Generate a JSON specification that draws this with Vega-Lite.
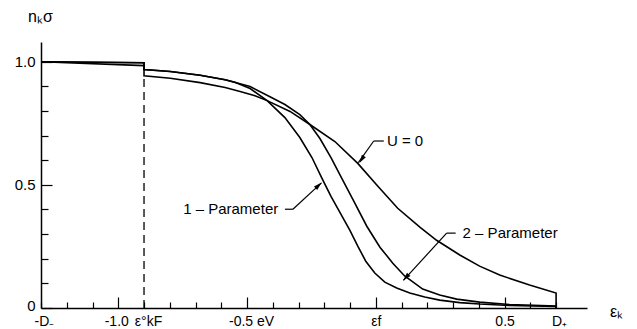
{
  "$schema": "https://vega.github.io/schema/vega-lite/v6.json",
  "width": 546,
  "height": 266,
  "autosize": {"type": "none"},
  "padding": {"left": 41, "top": 42, "right": 50, "bottom": 21},
  "background": "white",
  "config": {"view": {"stroke": null}, "font": "Liberation Sans"},
  "datasets": {
    "curves": [
      {"s": "P1", "i": 0, "x": -1.3, "y": 1.0},
      {"s": "P1", "i": 1, "x": -0.9, "y": 0.996},
      {"s": "P1", "i": 2, "x": -0.9, "y": 0.968},
      {"s": "P1", "i": 3, "x": -0.798, "y": 0.960},
      {"s": "P1", "i": 4, "x": -0.682, "y": 0.945},
      {"s": "P1", "i": 5, "x": -0.585, "y": 0.927},
      {"s": "P1", "i": 6, "x": -0.547, "y": 0.917},
      {"s": "P1", "i": 7, "x": -0.488, "y": 0.891},
      {"s": "P1", "i": 8, "x": -0.422, "y": 0.842},
      {"s": "P1", "i": 9, "x": -0.353, "y": 0.773},
      {"s": "P1", "i": 10, "x": -0.295, "y": 0.692},
      {"s": "P1", "i": 11, "x": -0.248, "y": 0.611},
      {"s": "P1", "i": 12, "x": -0.209, "y": 0.526},
      {"s": "P1", "i": 13, "x": -0.174, "y": 0.453},
      {"s": "P1", "i": 14, "x": -0.140, "y": 0.389},
      {"s": "P1", "i": 15, "x": -0.101, "y": 0.316},
      {"s": "P1", "i": 16, "x": -0.070, "y": 0.251},
      {"s": "P1", "i": 17, "x": -0.039, "y": 0.190},
      {"s": "P1", "i": 18, "x": -0.004, "y": 0.142},
      {"s": "P1", "i": 19, "x": 0.035, "y": 0.105},
      {"s": "P1", "i": 20, "x": 0.081, "y": 0.081},
      {"s": "P1", "i": 21, "x": 0.132, "y": 0.061},
      {"s": "P1", "i": 22, "x": 0.190, "y": 0.045},
      {"s": "P1", "i": 23, "x": 0.248, "y": 0.032},
      {"s": "P1", "i": 24, "x": 0.326, "y": 0.022},
      {"s": "P1", "i": 25, "x": 0.403, "y": 0.016},
      {"s": "P1", "i": 26, "x": 0.519, "y": 0.010},
      {"s": "P1", "i": 27, "x": 0.7, "y": 0.006},
      {"s": "P1", "i": 28, "x": 0.7, "y": 0.0},
      {"s": "P2", "i": 0, "x": -1.3, "y": 1.0},
      {"s": "P2", "i": 1, "x": -0.9, "y": 0.996},
      {"s": "P2", "i": 2, "x": -0.9, "y": 0.968},
      {"s": "P2", "i": 3, "x": -0.798, "y": 0.960},
      {"s": "P2", "i": 4, "x": -0.682, "y": 0.945},
      {"s": "P2", "i": 5, "x": -0.585, "y": 0.927},
      {"s": "P2", "i": 6, "x": -0.488, "y": 0.899},
      {"s": "P2", "i": 7, "x": -0.411, "y": 0.858},
      {"s": "P2", "i": 8, "x": -0.353, "y": 0.826},
      {"s": "P2", "i": 9, "x": -0.295, "y": 0.785},
      {"s": "P2", "i": 10, "x": -0.256, "y": 0.745},
      {"s": "P2", "i": 11, "x": -0.217, "y": 0.688},
      {"s": "P2", "i": 12, "x": -0.174, "y": 0.611},
      {"s": "P2", "i": 13, "x": -0.132, "y": 0.526},
      {"s": "P2", "i": 14, "x": -0.081, "y": 0.425},
      {"s": "P2", "i": 15, "x": -0.035, "y": 0.332},
      {"s": "P2", "i": 16, "x": 0.016, "y": 0.247},
      {"s": "P2", "i": 17, "x": 0.066, "y": 0.182},
      {"s": "P2", "i": 18, "x": 0.112, "y": 0.130},
      {"s": "P2", "i": 19, "x": 0.182, "y": 0.077},
      {"s": "P2", "i": 20, "x": 0.248, "y": 0.053},
      {"s": "P2", "i": 21, "x": 0.314, "y": 0.036},
      {"s": "P2", "i": 22, "x": 0.403, "y": 0.024},
      {"s": "P2", "i": 23, "x": 0.519, "y": 0.014},
      {"s": "P2", "i": 24, "x": 0.7, "y": 0.008},
      {"s": "P2", "i": 25, "x": 0.7, "y": 0.0},
      {"s": "U0", "i": 0, "x": -1.3, "y": 1.0},
      {"s": "U0", "i": 1, "x": -0.9, "y": 0.984},
      {"s": "U0", "i": 2, "x": -0.9, "y": 0.943},
      {"s": "U0", "i": 3, "x": -0.798, "y": 0.933},
      {"s": "U0", "i": 4, "x": -0.682, "y": 0.915},
      {"s": "U0", "i": 5, "x": -0.585, "y": 0.895},
      {"s": "U0", "i": 6, "x": -0.527, "y": 0.879},
      {"s": "U0", "i": 7, "x": -0.469, "y": 0.862},
      {"s": "U0", "i": 8, "x": -0.422, "y": 0.842},
      {"s": "U0", "i": 9, "x": -0.333, "y": 0.798},
      {"s": "U0", "i": 10, "x": -0.256, "y": 0.745},
      {"s": "U0", "i": 11, "x": -0.159, "y": 0.676},
      {"s": "U0", "i": 12, "x": -0.070, "y": 0.587},
      {"s": "U0", "i": 13, "x": 0.008, "y": 0.494},
      {"s": "U0", "i": 14, "x": 0.085, "y": 0.405},
      {"s": "U0", "i": 15, "x": 0.171, "y": 0.328},
      {"s": "U0", "i": 16, "x": 0.236, "y": 0.275},
      {"s": "U0", "i": 17, "x": 0.326, "y": 0.215},
      {"s": "U0", "i": 18, "x": 0.403, "y": 0.170},
      {"s": "U0", "i": 19, "x": 0.481, "y": 0.134},
      {"s": "U0", "i": 20, "x": 0.597, "y": 0.093},
      {"s": "U0", "i": 21, "x": 0.7, "y": 0.061},
      {"s": "U0", "i": 22, "x": 0.7, "y": 0.0}
    ],
    "dash": [{"x": -0.9, "y": 0.0, "y2": 0.935}],
    "leaders": [
      {"k": "U0a", "x": -0.008, "y": 0.678, "x2": 0.031, "y2": 0.678},
      {"k": "U0b", "x": -0.008, "y": 0.678, "x2": -0.068, "y2": 0.590},
      {"k": "P1a", "x": -0.353, "y": 0.401, "x2": -0.322, "y2": 0.401},
      {"k": "P1b", "x": -0.322, "y": 0.401, "x2": -0.211, "y2": 0.508},
      {"k": "P2a", "x": 0.275, "y": 0.304, "x2": 0.310, "y2": 0.304},
      {"k": "P2b", "x": 0.275, "y": 0.304, "x2": 0.107, "y2": 0.112}
    ],
    "arrows": [
      {"k": "U0", "x": -0.055, "y": 0.603},
      {"k": "P1", "x": -0.222, "y": 0.498},
      {"k": "P2", "x": 0.117, "y": 0.124}
    ],
    "notes": [
      {"t": "U = 0", "x": 0.043, "y": 0.680},
      {"t": "1 – Parameter", "x": -0.748, "y": 0.401},
      {"t": "2 – Parameter", "x": 0.337, "y": 0.304}
    ]
  },
  "layer": [
    {
      "data": {"name": "curves"},
      "mark": {"type": "line", "stroke": "black", "strokeWidth": 1.6, "clip": false},
      "encoding": {
        "x": {
          "field": "x", "type": "quantitative",
          "scale": {"domain": [-1.3, 0.82], "nice": false, "zero": false},
          "axis": {
            "values": [-1.3, -1.2, -1.1, -1.0, -0.9, -0.8, -0.7, -0.6, -0.5, -0.4, -0.3, -0.2, -0.1, 0, 0.1, 0.2, 0.3, 0.4, 0.5, 0.6, 0.7],
            "tickCount": 100,
            "labelExpr": "abs(datum.value+1.3)<0.001 ? '-D₋' : abs(datum.value+1)<0.001 ? '-1.0' : abs(datum.value+0.9)<0.001 ? 'ε°kF' : abs(datum.value+0.5)<0.001 ? '-0.5 eV' : abs(datum.value)<0.001 ? 'εf' : abs(datum.value-0.5)<0.001 ? '0.5' : abs(datum.value-0.7)<0.001 ? 'D₊' : ''",
            "labelFontSize": 14, "labelColor": "black", "labelBaseline": "top",
            "labelPadding": {"condition": {"test": "abs(datum.value*2 - round(datum.value*2)) < 0.001", "value": 17}, "value": 12},
            "labelOffset": {"condition": [
              {"test": "abs(datum.value+1.3)<0.001", "value": 3},
              {"test": "abs(datum.value+0.9)<0.001", "value": 4},
              {"test": "abs(datum.value+1)<0.001", "value": -2},
              {"test": "abs(datum.value+0.5)<0.001", "value": 4},
              {"test": "abs(datum.value-0.7)<0.001", "value": 3}
            ], "value": 0},
            "labelFlush": false, "labelOverlap": false, "labelAlign": "center",
            "tickSize": {"condition": {"test": "abs(datum.value*2 - round(datum.value*2)) < 0.001", "value": -11}, "value": -6},
            "tickColor": "black", "tickWidth": 1.2,
            "domainColor": "black", "domainWidth": 1.5, "grid": false,
            "title": "εₖ", "titleX": 575, "titleY": 3, "titleAlign": "center", "titleBaseline": "middle",
            "titleFontSize": 16, "titleFontWeight": "normal", "titleColor": "black"
          }
        },
        "y": {
          "field": "y", "type": "quantitative",
          "scale": {"domain": [0, 1.08], "nice": false, "zero": false},
          "axis": {
            "values": [0, 0.1, 0.2, 0.3, 0.4, 0.5, 0.6, 0.7, 0.8, 0.9, 1.0],
            "tickCount": 100,
            "labelExpr": "abs(datum.value)<0.001 ? '0' : abs(datum.value-0.5)<0.001 ? '0.5' : abs(datum.value-1)<0.001 ? '1.0' : ''",
            "labelFontSize": 15, "labelColor": "black", "labelPadding": 17, "labelFlush": false, "labelOverlap": false,
            "labelOffset": {"condition": {"test": "abs(datum.value)<0.001", "value": -3}, "value": 0},
            "tickSize": {"condition": {"test": "abs(datum.value*2 - round(datum.value*2)) < 0.001", "value": -11}, "value": -7},
            "tickColor": "black", "tickWidth": 1.2,
            "domainColor": "black", "domainWidth": 1.5, "grid": false,
            "title": "nₖσ", "titleAngle": 0, "titleX": -1, "titleY": -26, "titleAlign": "center", "titleBaseline": "middle",
            "titleFontSize": 16, "titleFontWeight": "normal", "titleColor": "black"
          }
        },
        "detail": {"field": "s"},
        "order": {"field": "i", "type": "quantitative"}
      }
    },
    {
      "data": {"name": "dash"},
      "mark": {"type": "rule", "stroke": "black", "strokeWidth": 1.3, "strokeDash": [8, 5]},
      "encoding": {
        "x": {"field": "x", "type": "quantitative"},
        "y": {"field": "y", "type": "quantitative"},
        "y2": {"field": "y2"}
      }
    },
    {
      "data": {"name": "leaders"},
      "mark": {"type": "rule", "stroke": "black", "strokeWidth": 1.2},
      "encoding": {
        "x": {"field": "x", "type": "quantitative"},
        "y": {"field": "y", "type": "quantitative"},
        "x2": {"field": "x2"},
        "y2": {"field": "y2"}
      }
    },
    {
      "data": {"name": "arrows"},
      "transform": [{"filter": "datum.k == 'U0'"}],
      "mark": {"type": "point", "shape": "M0,-1L0.55,1L-0.55,1Z", "filled": true, "color": "black", "opacity": 1, "size": 70, "angle": 212},
      "encoding": {
        "x": {"field": "x", "type": "quantitative"},
        "y": {"field": "y", "type": "quantitative"}
      }
    },
    {
      "data": {"name": "arrows"},
      "transform": [{"filter": "datum.k == 'P1'"}],
      "mark": {"type": "point", "shape": "M0,-1L0.55,1L-0.55,1Z", "filled": true, "color": "black", "opacity": 1, "size": 70, "angle": 47},
      "encoding": {
        "x": {"field": "x", "type": "quantitative"},
        "y": {"field": "y", "type": "quantitative"}
      }
    },
    {
      "data": {"name": "arrows"},
      "transform": [{"filter": "datum.k == 'P2'"}],
      "mark": {"type": "point", "shape": "M0,-1L0.55,1L-0.55,1Z", "filled": true, "color": "black", "opacity": 1, "size": 70, "angle": 222},
      "encoding": {
        "x": {"field": "x", "type": "quantitative"},
        "y": {"field": "y", "type": "quantitative"}
      }
    },
    {
      "data": {"name": "notes"},
      "mark": {"type": "text", "align": "left", "baseline": "middle", "fontSize": 15, "color": "black"},
      "encoding": {
        "x": {"field": "x", "type": "quantitative"},
        "y": {"field": "y", "type": "quantitative"},
        "text": {"field": "t"}
      }
    }
  ]
}
